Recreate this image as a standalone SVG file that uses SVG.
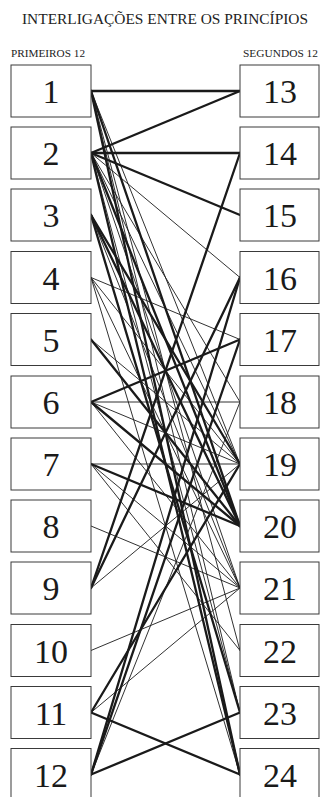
<svg xmlns="http://www.w3.org/2000/svg" width="320" height="797" viewBox="0 0 320 797">
<style>
.bg{fill:#fff}
.box rect{fill:#fff;stroke:#3a3a3a;stroke-width:1}
.box text{font-family:"Liberation Serif","Times New Roman",serif;font-size:34px;fill:#1a1a1a;text-anchor:middle}
.hdr{font-family:"Liberation Serif","Times New Roman",serif;fill:#222}
#links line{stroke:#1a1a1a;stroke-linecap:round}
#links .t{stroke-width:0.9}
#links .T{stroke-width:2.3}
</style>
<rect class="bg" x="0" y="0" width="320" height="797"/>
<text class="hdr" x="165" y="24" font-size="15.5" text-anchor="middle" textLength="286" lengthAdjust="spacingAndGlyphs">INTERLIGAÇÕES ENTRE OS PRINCÍPIOS</text>
<text class="hdr" x="11" y="57" font-size="10.5" textLength="74" lengthAdjust="spacingAndGlyphs">PRIMEIROS 12</text>
<text class="hdr" x="243" y="57" font-size="10.5" textLength="75" lengthAdjust="spacingAndGlyphs">SEGUNDOS 12</text>
<g id="links">
<line class="T" x1="91" y1="91" x2="240" y2="91"/>
<line class="t" x1="91" y1="91" x2="240" y2="464"/>
<line class="T" x1="91" y1="91" x2="240" y2="526"/>
<line class="t" x1="91" y1="91" x2="240" y2="650.5"/>
<line class="t" x1="91" y1="91" x2="240" y2="712.5"/>
<line class="T" x1="91" y1="91" x2="240" y2="774.5"/>
<line class="T" x1="91" y1="153" x2="240" y2="91"/>
<line class="T" x1="91" y1="153" x2="240" y2="153"/>
<line class="T" x1="91" y1="153" x2="240" y2="215"/>
<line class="t" x1="91" y1="153" x2="240" y2="277.5"/>
<line class="t" x1="91" y1="153" x2="240" y2="402"/>
<line class="t" x1="91" y1="153" x2="240" y2="464"/>
<line class="T" x1="91" y1="153" x2="240" y2="526"/>
<line class="t" x1="91" y1="153" x2="240" y2="588"/>
<line class="t" x1="91" y1="153" x2="240" y2="712.5"/>
<line class="T" x1="91" y1="153" x2="240" y2="774.5"/>
<line class="T" x1="91" y1="215" x2="240" y2="464"/>
<line class="T" x1="91" y1="215" x2="240" y2="526"/>
<line class="t" x1="91" y1="215" x2="240" y2="588"/>
<line class="T" x1="91" y1="215" x2="240" y2="712.5"/>
<line class="t" x1="91" y1="277.5" x2="240" y2="339.5"/>
<line class="t" x1="91" y1="277.5" x2="240" y2="464"/>
<line class="t" x1="91" y1="277.5" x2="240" y2="588"/>
<line class="t" x1="91" y1="277.5" x2="240" y2="774.5"/>
<line class="t" x1="91" y1="339.5" x2="240" y2="464"/>
<line class="T" x1="91" y1="339.5" x2="240" y2="526"/>
<line class="T" x1="91" y1="402" x2="240" y2="339.5"/>
<line class="t" x1="91" y1="402" x2="240" y2="402"/>
<line class="t" x1="91" y1="402" x2="240" y2="464"/>
<line class="T" x1="91" y1="402" x2="240" y2="526"/>
<line class="t" x1="91" y1="402" x2="240" y2="588"/>
<line class="t" x1="91" y1="464" x2="240" y2="464"/>
<line class="T" x1="91" y1="464" x2="240" y2="526"/>
<line class="t" x1="91" y1="464" x2="240" y2="588"/>
<line class="t" x1="91" y1="464" x2="240" y2="650.5"/>
<line class="t" x1="91" y1="526" x2="240" y2="588"/>
<line class="T" x1="91" y1="588" x2="240" y2="153"/>
<line class="T" x1="91" y1="588" x2="240" y2="277.5"/>
<line class="t" x1="91" y1="588" x2="240" y2="464"/>
<line class="t" x1="91" y1="650.5" x2="240" y2="588"/>
<line class="T" x1="91" y1="712.5" x2="240" y2="464"/>
<line class="t" x1="91" y1="712.5" x2="240" y2="588"/>
<line class="T" x1="91" y1="712.5" x2="240" y2="774.5"/>
<line class="T" x1="91" y1="774.5" x2="240" y2="277.5"/>
<line class="T" x1="91" y1="774.5" x2="240" y2="339.5"/>
<line class="t" x1="91" y1="774.5" x2="240" y2="402"/>
<line class="T" x1="91" y1="774.5" x2="240" y2="712.5"/>
</g>
<g id="n1" class="box"><rect x="11" y="65" width="80" height="52"/><text x="51" y="103">1</text></g>
<g id="n2" class="box"><rect x="11" y="127" width="80" height="52"/><text x="51" y="165">2</text></g>
<g id="n3" class="box"><rect x="11" y="189" width="80" height="52"/><text x="51" y="227">3</text></g>
<g id="n4" class="box"><rect x="11" y="251.5" width="80" height="52"/><text x="51" y="289.5">4</text></g>
<g id="n5" class="box"><rect x="11" y="313.5" width="80" height="52"/><text x="51" y="351.5">5</text></g>
<g id="n6" class="box"><rect x="11" y="376" width="80" height="52"/><text x="51" y="414">6</text></g>
<g id="n7" class="box"><rect x="11" y="438" width="80" height="52"/><text x="51" y="476">7</text></g>
<g id="n8" class="box"><rect x="11" y="500" width="80" height="52"/><text x="51" y="538">8</text></g>
<g id="n9" class="box"><rect x="11" y="562" width="80" height="52"/><text x="51" y="600">9</text></g>
<g id="n10" class="box"><rect x="11" y="624.5" width="80" height="52"/><text x="51" y="662.5">10</text></g>
<g id="n11" class="box"><rect x="11" y="686.5" width="80" height="52"/><text x="51" y="724.5">11</text></g>
<g id="n12" class="box"><rect x="11" y="748.5" width="80" height="52"/><text x="51" y="786.5">12</text></g>
<g id="n13" class="box"><rect x="240" y="65" width="79" height="52"/><text x="280" y="103">13</text></g>
<g id="n14" class="box"><rect x="240" y="127" width="79" height="52"/><text x="280" y="165">14</text></g>
<g id="n15" class="box"><rect x="240" y="189" width="79" height="52"/><text x="280" y="227">15</text></g>
<g id="n16" class="box"><rect x="240" y="251.5" width="79" height="52"/><text x="280" y="289.5">16</text></g>
<g id="n17" class="box"><rect x="240" y="313.5" width="79" height="52"/><text x="280" y="351.5">17</text></g>
<g id="n18" class="box"><rect x="240" y="376" width="79" height="52"/><text x="280" y="414">18</text></g>
<g id="n19" class="box"><rect x="240" y="438" width="79" height="52"/><text x="280" y="476">19</text></g>
<g id="n20" class="box"><rect x="240" y="500" width="79" height="52"/><text x="280" y="538">20</text></g>
<g id="n21" class="box"><rect x="240" y="562" width="79" height="52"/><text x="280" y="600">21</text></g>
<g id="n22" class="box"><rect x="240" y="624.5" width="79" height="52"/><text x="280" y="662.5">22</text></g>
<g id="n23" class="box"><rect x="240" y="686.5" width="79" height="52"/><text x="280" y="724.5">23</text></g>
<g id="n24" class="box"><rect x="240" y="748.5" width="79" height="52"/><text x="280" y="786.5">24</text></g>
</svg>
